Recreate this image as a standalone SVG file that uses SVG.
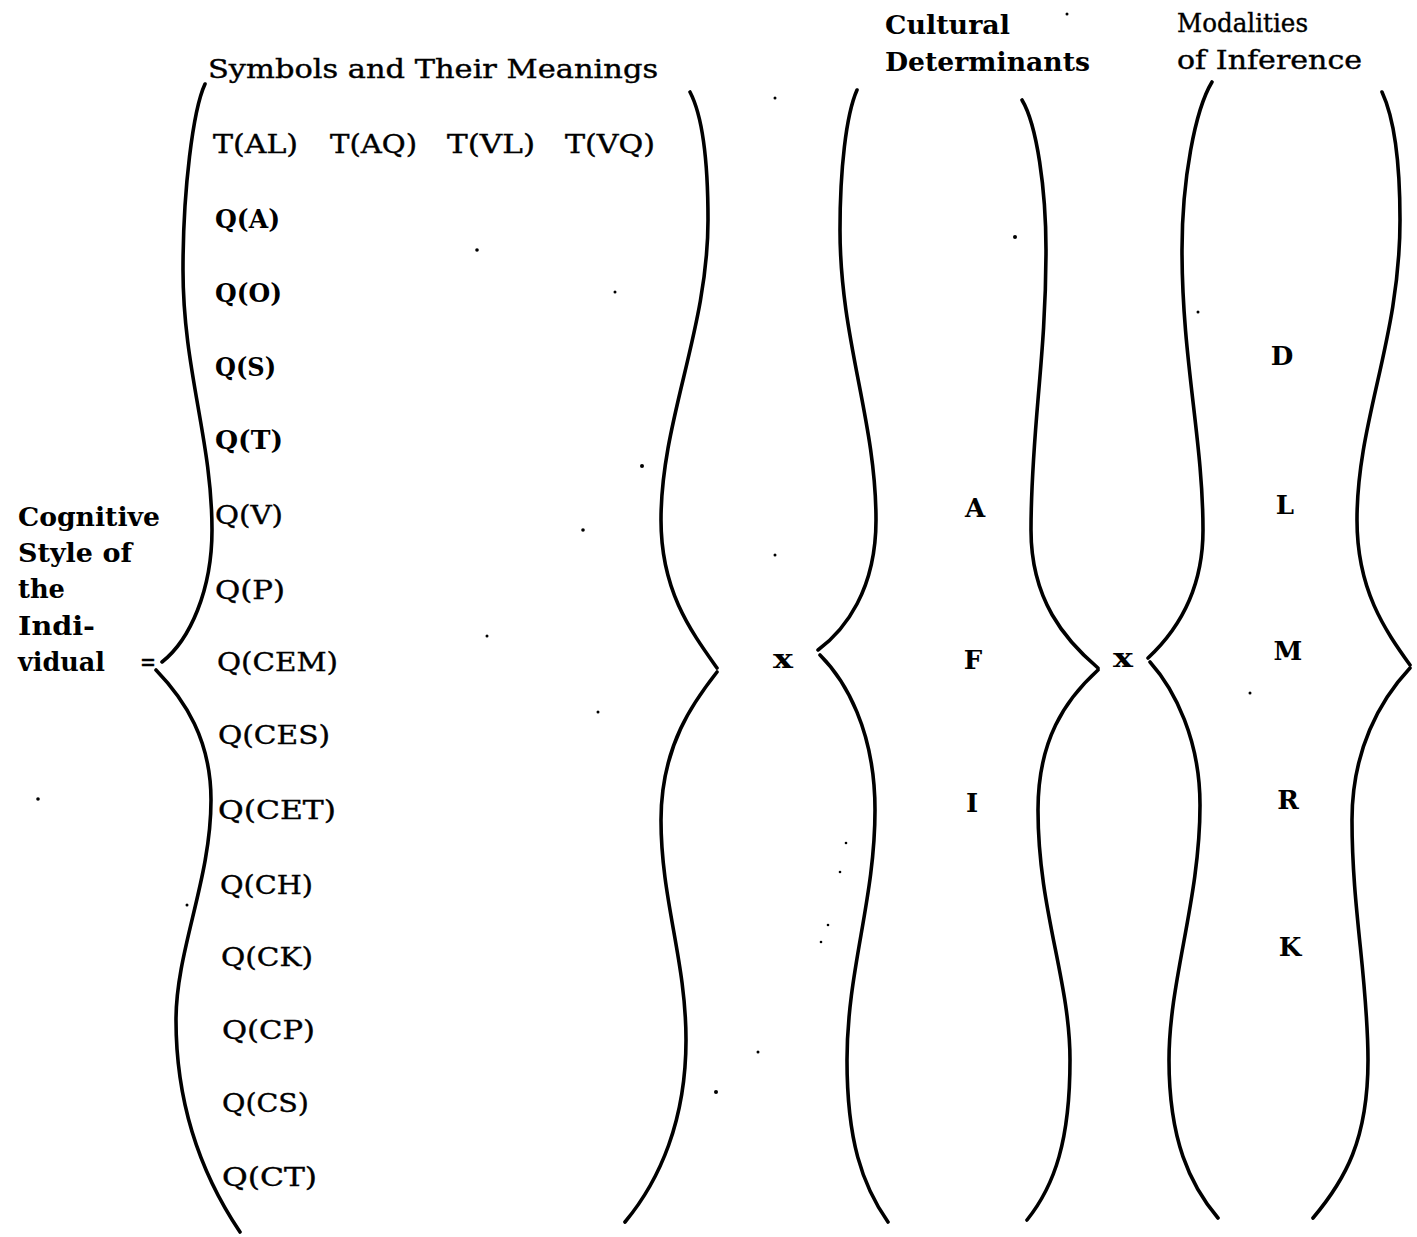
<svg xmlns="http://www.w3.org/2000/svg" width="1417" height="1237" viewBox="0 0 1417 1237">
<style>
.bg{fill:#fff}
.br{fill:none;stroke:#000;stroke-width:3.6;stroke-linecap:round;stroke-linejoin:round}
.t{font-family:"DejaVu Serif","Liberation Serif",serif;font-size:26px;fill:#000;stroke:#000;stroke-width:0.4}
.b{font-weight:bold;stroke-width:0}
.sp{fill:#000}
</style>
<rect class="bg" x="0" y="0" width="1417" height="1237"/>
<g id="connectors"/>
<g id="lhs">
<text class="t b" x="18" y="526" textLength="142" lengthAdjust="spacingAndGlyphs">Cognitive</text>
<text class="t b" x="18" y="562" textLength="114" lengthAdjust="spacingAndGlyphs">Style of</text>
<text class="t b" x="18" y="598" textLength="47" lengthAdjust="spacingAndGlyphs">the</text>
<text class="t b" x="18" y="635" textLength="77" lengthAdjust="spacingAndGlyphs">Indi-</text>
<text class="t b" x="18" y="671" textLength="87" lengthAdjust="spacingAndGlyphs">vidual</text>
<text class="t" x="140" y="671" textLength="16" lengthAdjust="spacingAndGlyphs">=</text>
</g>
<g id="symbols">
<path class="br" d="M205,84 C193,110 183,190 183,270 C183,370 212,440 212,530 C212,590 190,640 162,662"/>
<path class="br" d="M156,670 C185,700 211,740 211,800 C211,880 176,950 176,1020 C176,1110 205,1180 240,1232"/>
<path class="br" d="M690,92 C702,115 708,160 708,220 C708,330 661,420 661,520 C661,590 690,630 717,668"/>
<path class="br" d="M717,672 C695,700 661,745 661,820 C661,900 686,960 686,1040 C686,1120 660,1180 625,1222"/>
<text class="t" x="208" y="78" textLength="450" lengthAdjust="spacingAndGlyphs">Symbols and Their Meanings</text>
<text class="t" x="213" y="153" textLength="85" lengthAdjust="spacingAndGlyphs">T(AL)</text>
<text class="t" x="330" y="153" textLength="87" lengthAdjust="spacingAndGlyphs">T(AQ)</text>
<text class="t" x="447" y="153" textLength="88" lengthAdjust="spacingAndGlyphs">T(VL)</text>
<text class="t" x="565" y="153" textLength="90" lengthAdjust="spacingAndGlyphs">T(VQ)</text>
<text class="t b" x="215" y="228" textLength="65" lengthAdjust="spacingAndGlyphs">Q(A)</text>
<text class="t b" x="215" y="302" textLength="67" lengthAdjust="spacingAndGlyphs">Q(O)</text>
<text class="t b" x="215" y="376" textLength="61" lengthAdjust="spacingAndGlyphs">Q(S)</text>
<text class="t b" x="215" y="449" textLength="68" lengthAdjust="spacingAndGlyphs">Q(T)</text>
<text class="t" x="215" y="524" textLength="68" lengthAdjust="spacingAndGlyphs">Q(V)</text>
<text class="t" x="215" y="599" textLength="70" lengthAdjust="spacingAndGlyphs">Q(P)</text>
<text class="t" x="217" y="671" textLength="121" lengthAdjust="spacingAndGlyphs">Q(CEM)</text>
<text class="t" x="218" y="744" textLength="112" lengthAdjust="spacingAndGlyphs">Q(CES)</text>
<text class="t" x="218" y="819" textLength="118" lengthAdjust="spacingAndGlyphs">Q(CET)</text>
<text class="t" x="220" y="894" textLength="93" lengthAdjust="spacingAndGlyphs">Q(CH)</text>
<text class="t" x="221" y="966" textLength="92" lengthAdjust="spacingAndGlyphs">Q(CK)</text>
<text class="t" x="222" y="1039" textLength="93" lengthAdjust="spacingAndGlyphs">Q(CP)</text>
<text class="t" x="222" y="1112" textLength="87" lengthAdjust="spacingAndGlyphs">Q(CS)</text>
<text class="t" x="222" y="1186" textLength="95" lengthAdjust="spacingAndGlyphs">Q(CT)</text>
</g>
<g id="times1"><text class="t b" x="773" y="668" textLength="20" lengthAdjust="spacingAndGlyphs">x</text></g>
<g id="cultural">
<path class="br" d="M857,90 C846,115 840,170 840,230 C840,340 876,420 876,520 C876,590 845,630 818,650"/>
<path class="br" d="M820,655 C845,680 875,730 875,810 C875,900 847,970 847,1060 C847,1140 862,1185 888,1222"/>
<path class="br" d="M1022,100 C1037,125 1046,190 1046,250 C1046,360 1031,430 1031,530 C1031,600 1065,640 1098,668"/>
<path class="br" d="M1098,670 C1065,700 1038,740 1038,810 C1038,910 1070,980 1070,1060 C1070,1140 1055,1185 1027,1220"/>
<text class="t b" x="885" y="34" textLength="125" lengthAdjust="spacingAndGlyphs">Cultural</text>
<text class="t b" x="885" y="71" textLength="205" lengthAdjust="spacingAndGlyphs">Determinants</text>
<text class="t b" x="975" y="517" text-anchor="middle">A</text>
<text class="t b" x="973" y="669" text-anchor="middle">F</text>
<text class="t b" x="972" y="812" text-anchor="middle">I</text>
</g>
<g id="times2"><text class="t b" x="1113" y="667" textLength="20" lengthAdjust="spacingAndGlyphs">x</text></g>
<g id="modalities">
<path class="br" d="M1212,82 C1195,110 1182,180 1182,250 C1182,360 1203,440 1203,530 C1203,590 1178,630 1148,658"/>
<path class="br" d="M1150,662 C1175,690 1200,740 1200,805 C1200,900 1169,980 1169,1060 C1169,1140 1190,1185 1218,1218"/>
<path class="br" d="M1382,92 C1395,120 1400,170 1400,220 C1400,340 1357,420 1357,520 C1357,590 1385,630 1410,665"/>
<path class="br" d="M1410,668 C1380,700 1352,750 1352,820 C1352,910 1368,980 1368,1060 C1368,1140 1345,1180 1313,1218"/>
<text class="t" x="1177" y="32" textLength="131" lengthAdjust="spacingAndGlyphs">Modalities</text>
<text class="t" x="1177" y="69" textLength="185" lengthAdjust="spacingAndGlyphs">of Inference</text>
<text class="t b" x="1282" y="365" text-anchor="middle">D</text>
<text class="t b" x="1285" y="514" text-anchor="middle">L</text>
<text class="t b" x="1288" y="660" text-anchor="middle">M</text>
<text class="t b" x="1288" y="809" text-anchor="middle">R</text>
<text class="t b" x="1290" y="956" text-anchor="middle">K</text>
</g>
<g id="specks">
<circle class="sp" cx="477" cy="250" r="1.8"/>
<circle class="sp" cx="615" cy="292" r="1.5"/>
<circle class="sp" cx="642" cy="466" r="2"/>
<circle class="sp" cx="583" cy="530" r="1.8"/>
<circle class="sp" cx="775" cy="555" r="1.5"/>
<circle class="sp" cx="487" cy="636" r="1.5"/>
<circle class="sp" cx="598" cy="712" r="1.5"/>
<circle class="sp" cx="38" cy="799" r="1.8"/>
<circle class="sp" cx="187" cy="905" r="1.5"/>
<circle class="sp" cx="758" cy="1052" r="1.5"/>
<circle class="sp" cx="716" cy="1092" r="2"/>
<circle class="sp" cx="1015" cy="237" r="2"/>
<circle class="sp" cx="1198" cy="312" r="1.5"/>
<circle class="sp" cx="1250" cy="693" r="1.5"/>
<circle class="sp" cx="775" cy="98" r="1.5"/>
<circle class="sp" cx="1067" cy="14" r="1.5"/>
<circle class="sp" cx="846" cy="843" r="1.3"/>
<circle class="sp" cx="840" cy="872" r="1.3"/>
<circle class="sp" cx="828" cy="925" r="1.3"/>
<circle class="sp" cx="821" cy="942" r="1.3"/>
</g>
</svg>
